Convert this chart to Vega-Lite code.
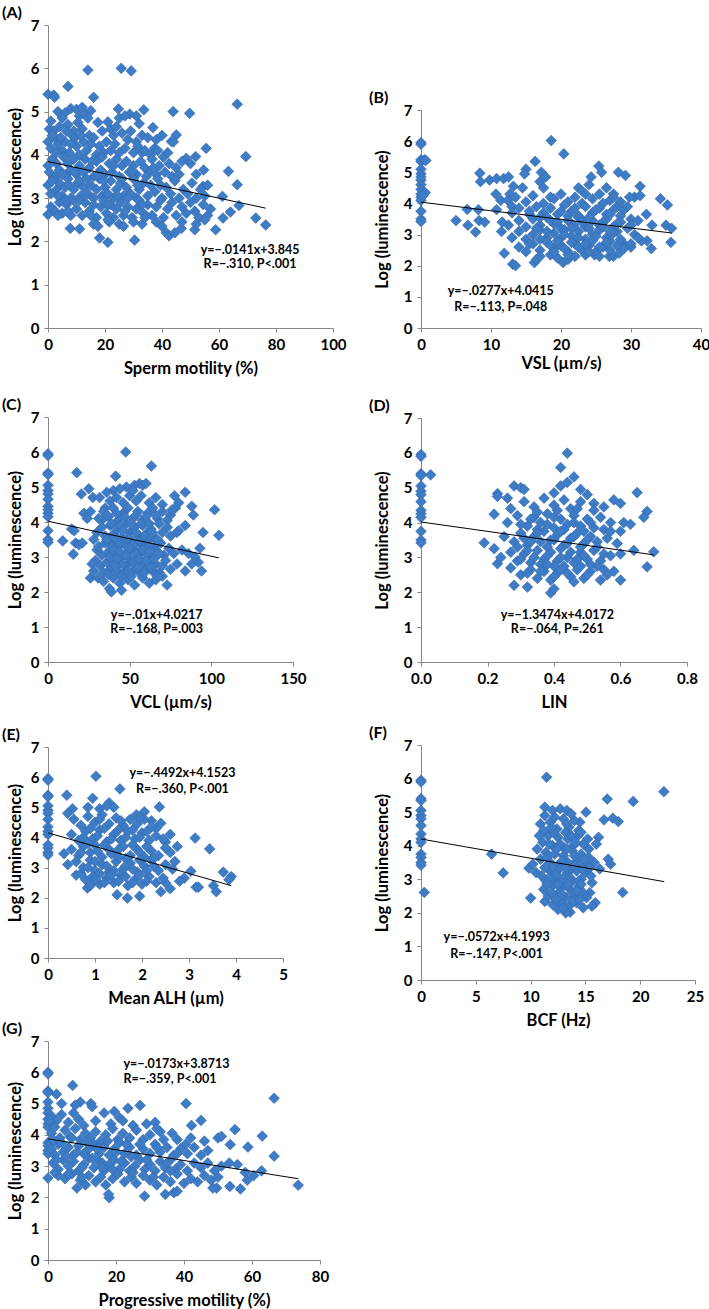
{
"$schema": "https://vega.github.io/schema/vega-lite/v6.json",
"padding": {"left": 2, "top": 5, "right": 5, "bottom": 5},
"background": "white",
"spacing": 22,
"datasets": {
"A": [{"x":0,"y":5.4},{"x":2,"y":5.38},{"x":2.3,"y":5.33},{"x":7,"y":5.58},{"x":14,"y":5.96},{"x":25.7,"y":6.0},{"x":29.2,"y":5.94},{"x":16,"y":5.33},{"x":66.4,"y":5.17},{"x":69.4,"y":3.96},{"x":76.4,"y":2.38},{"x":72.9,"y":2.54},{"x":63.3,"y":3.62},{"x":66.4,"y":3.31},{"x":67,"y":2.83},{"x":64,"y":2.68},{"x":61.2,"y":3.04},{"x":61.4,"y":2.54},{"x":58.8,"y":2.27},{"x":55.5,"y":4.15},{"x":54.6,"y":3.65},{"x":49.7,"y":4.96},{"x":43.9,"y":5.0},{"x":45,"y":4.46},{"x":43.3,"y":4.31},{"x":33.6,"y":5.04},{"x":24.7,"y":5.06},{"x":28.7,"y":4.94},{"x":36.8,"y":4.63},{"x":37.4,"y":4.15},{"x":48.5,"y":3.92},{"x":51.8,"y":3.96},{"x":54.4,"y":3.27},{"x":18.1,"y":2.08},{"x":21,"y":1.98},{"x":30.4,"y":2.03},{"x":7.8,"y":2.3},{"x":11.1,"y":2.29},{"x":0,"y":2.62},{"x":41.5,"y":2.2},{"x":42.5,"y":2.13},{"x":44.5,"y":2.2},{"x":46.8,"y":2.3},{"x":51.5,"y":2.27},
{"x":3.5,"y":5.0},{"x":6,"y":4.97},{"x":8,"y":5.07},{"x":10,"y":5.05},{"x":11,"y":4.9},{"x":12,"y":5.1},{"x":13,"y":4.95},{"x":15,"y":5.02},{"x":17.5,"y":4.75},{"x":21,"y":4.76},{"x":25,"y":4.85},{"x":27,"y":4.9},{"x":31,"y":4.9},
{"x":0.5,"y":4.6},{"x":1,"y":4.78},{"x":2,"y":4.55},{"x":4,"y":4.65},{"x":5,"y":4.85},{"x":7,"y":4.7},{"x":9,"y":4.55},{"x":10.5,"y":4.75},{"x":12,"y":4.6},{"x":14,"y":4.85},{"x":14.5,"y":4.45},{"x":16,"y":4.4},{"x":19,"y":4.55},{"x":22,"y":4.6},{"x":23,"y":4.45},{"x":24,"y":4.65},{"x":26,"y":4.5},{"x":29,"y":4.55},{"x":31,"y":4.3},{"x":32,"y":4.72},{"x":33,"y":4.45},{"x":35,"y":4.4},{"x":38,"y":4.35},{"x":40,"y":4.45},
{"x":0,"y":4.3},{"x":1,"y":4.15},{"x":2.5,"y":4.4},{"x":3.5,"y":4.25},{"x":5,"y":4.1},{"x":6,"y":4.3},{"x":7.5,"y":4.05},{"x":8.5,"y":4.45},{"x":10,"y":4.2},{"x":11,"y":4.0},{"x":12.5,"y":4.3},{"x":13.5,"y":4.1},{"x":15,"y":4.25},{"x":17,"y":4.0},{"x":18,"y":4.2},{"x":19.5,"y":4.05},{"x":20.5,"y":4.3},{"x":22,"y":4.1},{"x":23.5,"y":4.25},{"x":25,"y":4.05},{"x":27,"y":4.15},{"x":28,"y":4.35},{"x":30,"y":4.05},{"x":31.5,"y":4.2},{"x":33,"y":4.05},{"x":34,"y":4.1},{"x":36,"y":4.0},{"x":38.5,"y":4.1},{"x":40.5,"y":3.95},{"x":42,"y":4.05},{"x":44,"y":4.3},
{"x":0,"y":3.75},{"x":0.5,"y":3.6},{"x":1.5,"y":3.9},{"x":2.5,"y":3.5},{"x":3,"y":3.8},{"x":4,"y":3.65},{"x":5.5,"y":3.95},{"x":6.5,"y":3.55},{"x":7,"y":3.8},{"x":8,"y":3.65},{"x":9,"y":3.9},{"x":10,"y":3.55},{"x":11,"y":3.75},{"x":12.5,"y":3.6},{"x":13,"y":3.9},{"x":14.5,"y":3.7},{"x":16,"y":3.5},{"x":17,"y":3.85},{"x":18.5,"y":3.65},{"x":19,"y":3.95},{"x":20,"y":3.55},{"x":21.5,"y":3.8},{"x":22.5,"y":3.6},{"x":24,"y":3.9},{"x":25,"y":3.5},{"x":26,"y":3.75},{"x":27.5,"y":3.85},{"x":28.5,"y":3.6},{"x":30,"y":3.75},{"x":31,"y":3.55},{"x":32.5,"y":3.85},{"x":34,"y":3.7},{"x":35.5,"y":3.6},{"x":36.5,"y":3.9},{"x":38,"y":3.55},{"x":39,"y":3.75},{"x":41,"y":3.6},{"x":42.5,"y":3.8},{"x":43.5,"y":3.5},{"x":45,"y":3.7},{"x":46,"y":3.55},{"x":47,"y":3.85},{"x":50,"y":3.8},{"x":52,"y":3.55},
{"x":0,"y":3.3},{"x":1,"y":3.1},{"x":2,"y":3.45},{"x":3,"y":3.2},{"x":4,"y":3.35},{"x":5,"y":3.05},{"x":6,"y":3.25},{"x":7,"y":3.45},{"x":8,"y":3.0},{"x":9,"y":3.2},{"x":10.5,"y":3.35},{"x":11.5,"y":3.05},{"x":12.5,"y":3.25},{"x":14,"y":3.1},{"x":15,"y":3.3},{"x":16,"y":3.0},{"x":17,"y":3.2},{"x":18,"y":3.45},{"x":19,"y":3.05},{"x":20,"y":3.25},{"x":21,"y":3.1},{"x":22,"y":3.4},{"x":23,"y":3.0},{"x":24,"y":3.2},{"x":25.5,"y":3.35},{"x":26.5,"y":3.05},{"x":27.5,"y":3.25},{"x":29,"y":3.1},{"x":30,"y":3.45},{"x":31,"y":3.0},{"x":32,"y":3.2},{"x":33.5,"y":3.35},{"x":35,"y":3.05},{"x":36,"y":3.3},{"x":37.5,"y":3.15},{"x":38.5,"y":3.45},{"x":40,"y":3.0},{"x":41.5,"y":3.25},{"x":43,"y":3.1},{"x":44.5,"y":3.4},{"x":46,"y":3.0},{"x":47.5,"y":3.2},{"x":49,"y":3.1},{"x":50.5,"y":3.35},{"x":52,"y":3.0},{"x":53.5,"y":3.2},{"x":55,"y":3.05},{"x":56,"y":3.3},
{"x":1,"y":2.8},{"x":2.5,"y":2.7},{"x":4,"y":2.9},{"x":5,"y":2.65},{"x":6.5,"y":2.85},{"x":8,"y":2.6},{"x":9,"y":2.95},{"x":10,"y":2.75},{"x":12,"y":2.6},{"x":13,"y":2.9},{"x":14.5,"y":2.7},{"x":16,"y":2.85},{"x":17,"y":2.55},{"x":18.5,"y":2.8},{"x":19.5,"y":2.95},{"x":20.5,"y":2.65},{"x":22,"y":2.85},{"x":23,"y":2.55},{"x":24,"y":2.75},{"x":25.5,"y":2.9},{"x":26.5,"y":2.6},{"x":28,"y":2.8},{"x":29.5,"y":2.55},{"x":31,"y":2.75},{"x":32,"y":2.95},{"x":33.5,"y":2.65},{"x":35,"y":2.85},{"x":36.5,"y":2.6},{"x":38,"y":2.8},{"x":39.5,"y":2.95},{"x":40.5,"y":2.55},{"x":42,"y":2.75},{"x":43.5,"y":2.9},{"x":45,"y":2.6},{"x":47,"y":2.8},{"x":48.5,"y":2.65},{"x":50,"y":2.9},{"x":51.5,"y":2.7},{"x":53,"y":2.55},{"x":54.5,"y":2.85},{"x":56,"y":2.6},{"x":57,"y":2.75},
{"x":16,"y":2.4},{"x":17.5,"y":2.35},{"x":21.5,"y":2.45},{"x":25,"y":2.4},{"x":26.5,"y":2.35},{"x":30,"y":2.45},{"x":33,"y":2.4},{"x":38,"y":2.45},{"x":40,"y":2.35},{"x":47,"y":2.45},{"x":52,"y":2.4},{"x":55,"y":2.5},
{"x":1.5,"y":4.45},{"x":3,"y":4.05},{"x":4.5,"y":4.4},{"x":6.5,"y":4.55},{"x":8,"y":4.25},{"x":9.5,"y":4.4},{"x":11.5,"y":4.45},{"x":1.5,"y":3.4},{"x":3.5,"y":3.05},{"x":5,"y":3.55},{"x":6,"y":2.95},{"x":7.5,"y":3.3},{"x":9.5,"y":3.6},{"x":11,"y":3.4},{"x":13.5,"y":3.45},{"x":15.5,"y":3.85},{"x":17.5,"y":3.55},{"x":19.5,"y":3.4},{"x":21,"y":2.85},{"x":23,"y":3.75},{"x":24.5,"y":3.05},{"x":26,"y":3.45},{"x":28,"y":3.0},{"x":29.5,"y":3.6},{"x":31.5,"y":3.3},{"x":33,"y":2.85},{"x":34.5,"y":3.5},{"x":37,"y":3.7},{"x":39.5,"y":3.3},{"x":3.5,"y":2.6},{"x":7,"y":2.7},{"x":11,"y":2.95},{"x":15,"y":2.6},{"x":21,"y":2.5},{"x":27,"y":2.7},{"x":34,"y":2.55}],
"B": [{"x":0,"y":5.95},{"x":0,"y":5.9},{"x":0,"y":5.4},{"x":0,"y":5.35},{"x":0,"y":5.1},{"x":0,"y":4.95},{"x":0,"y":4.85},{"x":0,"y":4.75},{"x":0,"y":4.6},{"x":0,"y":4.45},{"x":0,"y":4.3},{"x":0,"y":4.2},{"x":0,"y":4.1},{"x":0,"y":3.75},{"x":0,"y":3.5},{"x":0,"y":3.42},{"x":0.5,"y":5.4},{"x":0.7,"y":5.38},{"x":0.6,"y":4.35},{"x":0.3,"y":4.25},
{"x":18.6,"y":6.02},{"x":20.4,"y":5.59},{"x":16.3,"y":5.35},{"x":5,"y":3.45},{"x":6.6,"y":3.81},{"x":6.7,"y":3.3},{"x":7.8,"y":3.08},{"x":8.2,"y":3.8},{"x":8.3,"y":3.45},{"x":9.1,"y":3.4},{"x":8.4,"y":4.97},{"x":8.5,"y":4.7},{"x":9.8,"y":4.75},{"x":10.8,"y":4.8},{"x":11.8,"y":4.8},{"x":12.5,"y":4.85},{"x":10.7,"y":4.3},{"x":11.4,"y":4.1},{"x":10.8,"y":3.8},{"x":11.5,"y":3.1},{"x":11.6,"y":3.4},{"x":11.9,"y":2.4},{"x":13.1,"y":2.05},{"x":13.5,"y":2.0},{"x":34.2,"y":4.15},{"x":35.2,"y":3.95},{"x":35,"y":3.3},{"x":35.8,"y":3.2},{"x":35.7,"y":2.75},{"x":32.9,"y":2.55},{"x":32.3,"y":2.8},{"x":31.5,"y":2.8},{"x":32.2,"y":3.65},{"x":30.5,"y":4.2},{"x":31.3,"y":4.55},{"x":31.3,"y":4.25},{"x":29.8,"y":4.2},{"x":29.2,"y":4.9},{"x":28.2,"y":5.0},{"x":25.4,"y":5.2},{"x":25.8,"y":5.0},{"x":24.3,"y":4.85},{"x":16.2,"y":2.1},{"x":16.5,"y":2.2},{"x":20.3,"y":2.1},{"x":21,"y":2.2},{"x":26.9,"y":2.3},{"x":27.5,"y":2.3},{"x":28.3,"y":2.4},{"x":24.8,"y":2.35},
{"x":15,"y":5.1},{"x":14.8,"y":4.95},{"x":17.2,"y":5.0},{"x":17.8,"y":4.85},{"x":13.2,"y":4.55},{"x":14.5,"y":4.5},{"x":12.7,"y":4.3},{"x":12.4,"y":4.1},{"x":13,"y":3.9},{"x":17,"y":4.7},{"x":17.5,"y":4.5},{"x":18.5,"y":4.2},{"x":22.5,"y":4.5},{"x":23,"y":4.4},{"x":24,"y":4.6},{"x":23.5,"y":4.3},{"x":26.5,"y":4.5},{"x":27.5,"y":4.3},{"x":27,"y":4.1},{"x":28,"y":3.9},{"x":29,"y":3.8},{"x":30,"y":3.5},{"x":29.5,"y":3.2},{"x":30.5,"y":3.0},{"x":29,"y":2.7},{"x":30,"y":2.6},{"x":31,"y":2.9},{"x":27,"y":2.8},{"x":28,"y":3.1},{"x":33,"y":3.3},
{"x":13.5,"y":4.2},{"x":15,"y":4.05},{"x":16,"y":4.25},{"x":17.5,"y":4.0},{"x":19,"y":4.15},{"x":20,"y":4.3},{"x":21,"y":4.05},{"x":22,"y":4.2},{"x":23,"y":4.0},{"x":24.5,"y":4.15},{"x":25.5,"y":4.3},{"x":26,"y":4.0},{"x":27.5,"y":4.2},{"x":28.5,"y":4.05},
{"x":13,"y":3.7},{"x":14,"y":3.85},{"x":15.5,"y":3.65},{"x":16.5,"y":3.9},{"x":17.5,"y":3.7},{"x":18.5,"y":3.85},{"x":19.5,"y":3.65},{"x":20.5,"y":3.95},{"x":21.5,"y":3.75},{"x":22.5,"y":3.6},{"x":23.5,"y":3.9},{"x":24.5,"y":3.7},{"x":25.5,"y":3.85},{"x":26.5,"y":3.65},{"x":27.5,"y":3.8},{"x":28.5,"y":3.6},{"x":29.5,"y":3.9},
{"x":12.5,"y":3.3},{"x":14,"y":3.45},{"x":15,"y":3.25},{"x":16,"y":3.5},{"x":17,"y":3.3},{"x":18,"y":3.55},{"x":19,"y":3.35},{"x":20,"y":3.2},{"x":21,"y":3.45},{"x":21.8,"y":3.3},{"x":22.5,"y":3.55},{"x":23.5,"y":3.25},{"x":24.5,"y":3.45},{"x":25.5,"y":3.3},{"x":26.5,"y":3.5},{"x":27.5,"y":3.25},{"x":28.5,"y":3.4},{"x":30,"y":3.3},{"x":31,"y":3.45},
{"x":13,"y":2.9},{"x":14,"y":3.1},{"x":15,"y":2.85},{"x":16,"y":3.0},{"x":17,"y":3.15},{"x":18,"y":2.9},{"x":19,"y":3.05},{"x":19.8,"y":2.85},{"x":20.5,"y":3.15},{"x":21.5,"y":2.95},{"x":22.5,"y":3.1},{"x":23.5,"y":2.85},{"x":24.5,"y":3.0},{"x":25.5,"y":3.15},{"x":26.5,"y":2.9},{"x":27.5,"y":3.05},{"x":28.5,"y":2.85},
{"x":14,"y":2.6},{"x":15,"y":2.45},{"x":16,"y":2.7},{"x":17,"y":2.5},{"x":18,"y":2.75},{"x":19,"y":2.55},{"x":20,"y":2.65},{"x":21,"y":2.45},{"x":22,"y":2.7},{"x":23,"y":2.5},{"x":24,"y":2.65},{"x":25,"y":2.45},{"x":26,"y":2.6},{"x":27,"y":2.5},{"x":28,"y":2.65},{"x":29,"y":2.55},{"x":30,"y":2.7},
{"x":17,"y":2.3},{"x":18.5,"y":2.35},{"x":19.5,"y":2.25},{"x":22,"y":2.3},{"x":23.5,"y":2.35},{"x":25.5,"y":2.3},
{"x":15.5,"y":3.75},{"x":17,"y":3.55},{"x":18.5,"y":3.45},{"x":20,"y":3.75},{"x":21,"y":3.6},{"x":22,"y":3.85},{"x":23,"y":3.45},{"x":24,"y":3.55},{"x":25,"y":3.8},{"x":26,"y":3.4},{"x":27,"y":3.65},{"x":16.5,"y":3.2},{"x":18,"y":3.1},{"x":19.5,"y":3.4},{"x":20.5,"y":3.0},{"x":21.5,"y":3.2},{"x":22.5,"y":2.9},{"x":23,"y":3.4},{"x":24,"y":3.2},{"x":25,"y":2.95},{"x":26,"y":3.25},{"x":27,"y":3.1},{"x":28,"y":3.35},{"x":15.5,"y":2.7},{"x":17,"y":2.85},{"x":18.5,"y":2.65},{"x":19.5,"y":2.8},{"x":20.5,"y":2.55},{"x":21.5,"y":2.75},{"x":22.5,"y":2.6},{"x":23.5,"y":2.7},{"x":24.5,"y":2.8},{"x":25.5,"y":2.6},{"x":26.5,"y":2.75},{"x":19,"y":2.45},{"x":21,"y":2.35},{"x":24,"y":2.45}],
"C": [{"x":0,"y":5.95},{"x":0,"y":5.9},{"x":0,"y":5.4},{"x":0,"y":5.35},{"x":0,"y":5.05},{"x":0,"y":4.9},{"x":0,"y":4.8},{"x":0,"y":4.65},{"x":0,"y":4.45},{"x":0,"y":4.35},{"x":0,"y":4.25},{"x":0,"y":4.15},{"x":0,"y":3.75},{"x":0,"y":3.5},{"x":0,"y":3.42},
{"x":47.6,"y":6.0},{"x":63.3,"y":5.6},{"x":17.6,"y":5.41},{"x":41.4,"y":5.31},{"x":20.4,"y":4.8},{"x":25,"y":4.95},{"x":27.5,"y":4.7},{"x":31.6,"y":4.7},{"x":9,"y":3.46},{"x":14.5,"y":3.8},{"x":16,"y":3.75},{"x":16.9,"y":3.4},{"x":15.5,"y":3.08},{"x":19,"y":3.35},{"x":21,"y":3.4},{"x":26,"y":2.4},{"x":30.6,"y":2.4},{"x":37.6,"y":2.1},{"x":38.8,"y":2.0},{"x":45,"y":2.05},{"x":102,"y":4.35},{"x":104.6,"y":3.62},{"x":94.9,"y":3.7},{"x":93,"y":3.25},{"x":94,"y":2.6},{"x":92,"y":2.85},{"x":90,"y":3.0},{"x":88,"y":2.8},{"x":89,"y":4.2},{"x":88,"y":4.45},{"x":84,"y":4.85},{"x":80,"y":4.55},{"x":77.5,"y":4.75},{"x":78,"y":4.4},{"x":75,"y":4.2},{"x":78.8,"y":3.7},{"x":72.9,"y":2.2},{"x":53,"y":5.05},{"x":56,"y":5.1},{"x":58,"y":5.05},{"x":60,"y":5.1},{"x":48,"y":5.0},{"x":44,"y":4.95},{"x":40,"y":4.9},{"x":36,"y":4.85},{"x":22,"y":4.25},{"x":24,"y":4.1},{"x":26,"y":4.3},{"x":28,"y":3.5},{"x":29,"y":2.9},{"x":27,"y":2.8},{"x":28,"y":2.6},{"x":30,"y":3.2},{"x":33,"y":4.05},{"x":35,"y":4.4},
{"x":38,"y":4.6},{"x":42,"y":4.7},{"x":46,"y":4.55},{"x":50,"y":4.75},{"x":54,"y":4.6},{"x":62,"y":4.55},{"x":66,"y":4.7},{"x":70,"y":4.5},{"x":52,"y":4.9},{"x":57,"y":4.75},
{"x":31,"y":4.1},{"x":34,"y":4.3},{"x":37,"y":4.15},{"x":40,"y":4.4},{"x":43,"y":4.05},{"x":46,"y":4.25},{"x":49,"y":4.4},{"x":52,"y":4.1},{"x":55,"y":4.3},{"x":58,"y":4.05},{"x":61,"y":4.25},{"x":64,"y":4.4},{"x":67,"y":4.1},{"x":70,"y":4.3},{"x":73,"y":4.05},{"x":76,"y":4.35},
{"x":30,"y":3.7},{"x":33,"y":3.85},{"x":35,"y":3.6},{"x":38,"y":3.9},{"x":40,"y":3.65},{"x":43,"y":3.8},{"x":45,"y":3.55},{"x":48,"y":3.95},{"x":50,"y":3.7},{"x":53,"y":3.85},{"x":55,"y":3.6},{"x":58,"y":3.9},{"x":60,"y":3.65},{"x":63,"y":3.8},{"x":65,"y":3.55},{"x":68,"y":3.95},{"x":70,"y":3.7},{"x":73,"y":3.85},{"x":75,"y":3.6},{"x":80,"y":3.75},{"x":84,"y":3.9},
{"x":31,"y":3.3},{"x":33,"y":3.05},{"x":35,"y":3.4},{"x":37,"y":3.15},{"x":39,"y":3.45},{"x":41,"y":3.1},{"x":43,"y":3.3},{"x":45,"y":3.0},{"x":47,"y":3.35},{"x":49,"y":3.15},{"x":51,"y":3.45},{"x":53,"y":3.2},{"x":55,"y":3.05},{"x":57,"y":3.35},{"x":59,"y":3.15},{"x":61,"y":3.45},{"x":63,"y":3.0},{"x":65,"y":3.3},{"x":67,"y":3.15},{"x":69,"y":3.4},{"x":71,"y":3.05},{"x":74,"y":3.25},{"x":77,"y":3.1},{"x":82,"y":3.2},{"x":86,"y":3.1},
{"x":32,"y":2.75},{"x":34,"y":2.55},{"x":36,"y":2.85},{"x":38,"y":2.65},{"x":40,"y":2.9},{"x":42,"y":2.6},{"x":44,"y":2.8},{"x":46,"y":2.55},{"x":48,"y":2.75},{"x":50,"y":2.95},{"x":52,"y":2.6},{"x":54,"y":2.8},{"x":56,"y":2.55},{"x":58,"y":2.85},{"x":60,"y":2.65},{"x":62,"y":2.9},{"x":64,"y":2.6},{"x":66,"y":2.8},{"x":68,"y":2.55},{"x":70,"y":2.75},{"x":72,"y":2.9},{"x":75,"y":2.65},{"x":79,"y":2.8},{"x":84,"y":2.6},
{"x":34,"y":2.3},{"x":40,"y":2.4},{"x":44,"y":2.25},{"x":49,"y":2.35},{"x":53,"y":2.2},{"x":58,"y":2.4},{"x":62,"y":2.25},{"x":66,"y":2.35},{"x":70,"y":2.45},
{"x":36,"y":4.2},{"x":39,"y":3.95},{"x":42,"y":4.25},{"x":44,"y":3.9},{"x":47,"y":4.15},{"x":51,"y":3.95},{"x":54,"y":4.2},{"x":57,"y":3.95},{"x":60,"y":4.15},{"x":62,"y":3.95},{"x":66,"y":4.2},{"x":36,"y":3.5},{"x":39,"y":3.3},{"x":41,"y":3.55},{"x":44,"y":3.4},{"x":46,"y":3.75},{"x":49,"y":3.55},{"x":52,"y":3.35},{"x":54,"y":3.7},{"x":56,"y":3.45},{"x":59,"y":3.6},{"x":62,"y":3.3},{"x":64,"y":3.7},{"x":67,"y":3.5},{"x":38,"y":3.0},{"x":40,"y":3.2},{"x":42,"y":2.95},{"x":44,"y":3.15},{"x":46,"y":2.8},{"x":48,"y":3.05},{"x":50,"y":3.25},{"x":52,"y":2.85},{"x":54,"y":3.1},{"x":56,"y":2.95},{"x":58,"y":3.2},{"x":60,"y":2.9},{"x":62,"y":3.15},{"x":65,"y":2.95},{"x":68,"y":3.1},{"x":37,"y":2.5},{"x":41,"y":2.75},{"x":45,"y":2.45},{"x":49,"y":2.6},{"x":51,"y":2.45},{"x":55,"y":2.7},{"x":59,"y":2.55},{"x":63,"y":2.7},{"x":67,"y":2.45}],
"D": [{"x":0,"y":5.95},{"x":0,"y":5.9},{"x":0,"y":5.4},{"x":0,"y":5.35},{"x":0,"y":5.05},{"x":0,"y":4.9},{"x":0,"y":4.8},{"x":0,"y":4.6},{"x":0,"y":4.35},{"x":0,"y":4.25},{"x":0,"y":4.15},{"x":0,"y":3.75},{"x":0,"y":3.5},{"x":0,"y":3.42},
{"x":0.029,"y":5.37},{"x":0.19,"y":3.42},{"x":0.44,"y":5.99},{"x":0.42,"y":5.58},{"x":0.44,"y":5.15},{"x":0.46,"y":5.31},{"x":0.23,"y":4.83},{"x":0.23,"y":4.75},{"x":0.22,"y":4.24},{"x":0.26,"y":4.7},{"x":0.28,"y":5.05},{"x":0.3,"y":5.0},{"x":0.31,"y":4.95},{"x":0.22,"y":3.25},{"x":0.23,"y":2.82},{"x":0.7,"y":3.16},{"x":0.68,"y":2.73},{"x":0.68,"y":4.32},{"x":0.67,"y":4.15},{"x":0.65,"y":4.86},{"x":0.64,"y":3.2},{"x":0.58,"y":4.65},{"x":0.6,"y":4.55},{"x":0.61,"y":4.0},{"x":0.63,"y":3.95},{"x":0.55,"y":2.65},{"x":0.58,"y":2.6},{"x":0.6,"y":2.35},{"x":0.54,"y":2.35},{"x":0.39,"y":1.98},{"x":0.4,"y":2.1},{"x":0.28,"y":2.2},{"x":0.32,"y":2.15},{"x":0.55,"y":3.8},{"x":0.57,"y":3.75},{"x":0.6,"y":3.75},{"x":0.5,"y":4.8},{"x":0.52,"y":4.55},{"x":0.48,"y":4.95},{"x":0.42,"y":5.05},{"x":0.4,"y":4.85},
{"x":0.27,"y":4.4},{"x":0.31,"y":4.6},{"x":0.34,"y":4.45},{"x":0.37,"y":4.7},{"x":0.4,"y":4.5},{"x":0.43,"y":4.65},{"x":0.45,"y":4.4},{"x":0.48,"y":4.6},{"x":0.52,"y":4.35},{"x":0.55,"y":4.45},
{"x":0.26,"y":4.0},{"x":0.29,"y":4.2},{"x":0.32,"y":3.9},{"x":0.34,"y":4.15},{"x":0.36,"y":4.0},{"x":0.38,"y":4.25},{"x":0.4,"y":3.85},{"x":0.42,"y":4.1},{"x":0.44,"y":3.95},{"x":0.46,"y":4.2},{"x":0.48,"y":3.9},{"x":0.5,"y":4.1},{"x":0.52,"y":3.85},{"x":0.54,"y":4.15},{"x":0.57,"y":4.0},
{"x":0.25,"y":3.6},{"x":0.28,"y":3.45},{"x":0.3,"y":3.7},{"x":0.32,"y":3.35},{"x":0.34,"y":3.6},{"x":0.36,"y":3.45},{"x":0.37,"y":3.75},{"x":0.39,"y":3.5},{"x":0.41,"y":3.65},{"x":0.43,"y":3.35},{"x":0.45,"y":3.55},{"x":0.47,"y":3.7},{"x":0.49,"y":3.4},{"x":0.51,"y":3.6},{"x":0.53,"y":3.45},{"x":0.56,"y":3.55},{"x":0.59,"y":3.4},
{"x":0.24,"y":3.0},{"x":0.27,"y":3.15},{"x":0.29,"y":2.9},{"x":0.31,"y":3.1},{"x":0.33,"y":2.85},{"x":0.35,"y":3.2},{"x":0.37,"y":2.95},{"x":0.39,"y":3.15},{"x":0.41,"y":2.9},{"x":0.42,"y":3.25},{"x":0.44,"y":3.0},{"x":0.46,"y":2.85},{"x":0.48,"y":3.15},{"x":0.5,"y":2.95},{"x":0.52,"y":3.2},{"x":0.54,"y":2.9},{"x":0.57,"y":3.05},{"x":0.6,"y":3.1},
{"x":0.27,"y":2.7},{"x":0.3,"y":2.5},{"x":0.33,"y":2.65},{"x":0.35,"y":2.4},{"x":0.37,"y":2.6},{"x":0.39,"y":2.35},{"x":0.41,"y":2.55},{"x":0.43,"y":2.75},{"x":0.45,"y":2.45},{"x":0.47,"y":2.65},{"x":0.49,"y":2.4},{"x":0.51,"y":2.6},{"x":0.53,"y":2.75},{"x":0.56,"y":2.5},
{"x":0.3,"y":3.95},{"x":0.33,"y":4.1},{"x":0.35,"y":3.8},{"x":0.38,"y":3.95},{"x":0.4,"y":4.15},{"x":0.43,"y":3.8},{"x":0.46,"y":4.0},{"x":0.49,"y":3.75},{"x":0.51,"y":4.0},{"x":0.29,"y":3.3},{"x":0.31,"y":3.55},{"x":0.33,"y":3.45},{"x":0.35,"y":3.7},{"x":0.38,"y":3.3},{"x":0.4,"y":3.5},{"x":0.42,"y":3.75},{"x":0.44,"y":3.4},{"x":0.46,"y":3.6},{"x":0.48,"y":3.3},{"x":0.5,"y":3.5},{"x":0.53,"y":3.3},{"x":0.3,"y":2.95},{"x":0.32,"y":3.2},{"x":0.34,"y":3.0},{"x":0.36,"y":2.8},{"x":0.38,"y":3.05},{"x":0.4,"y":2.75},{"x":0.42,"y":3.0},{"x":0.45,"y":3.15},{"x":0.47,"y":2.95},{"x":0.49,"y":3.05},{"x":0.51,"y":2.8},{"x":0.55,"y":3.1},{"x":0.32,"y":2.55},{"x":0.36,"y":2.6},{"x":0.38,"y":2.8},{"x":0.4,"y":2.45},{"x":0.42,"y":2.65},{"x":0.44,"y":2.55},{"x":0.46,"y":2.3},{"x":0.48,"y":2.75},{"x":0.5,"y":2.5},{"x":0.35,"y":4.3},{"x":0.41,"y":4.35},{"x":0.47,"y":4.4}],
"E": [{"x":0,"y":5.95},{"x":0,"y":5.9},{"x":0,"y":5.4},{"x":0,"y":5.35},{"x":0,"y":5.05},{"x":0,"y":4.9},{"x":0,"y":4.8},{"x":0,"y":4.6},{"x":0,"y":4.35},{"x":0,"y":4.2},{"x":0,"y":4.1},{"x":0,"y":3.75},{"x":0,"y":3.65},{"x":0,"y":3.5},{"x":0,"y":3.42},
{"x":1.02,"y":6.03},{"x":1.53,"y":5.61},{"x":0.4,"y":5.4},{"x":0.95,"y":5.3},{"x":0.34,"y":3.46},{"x":0.42,"y":3.1},{"x":0.42,"y":4.8},{"x":0.52,"y":4.95},{"x":2.37,"y":5.01},{"x":2.05,"y":4.85},{"x":1.88,"y":4.75},{"x":3.13,"y":3.98},{"x":3.44,"y":3.62},{"x":3.04,"y":2.88},{"x":3.73,"y":2.85},{"x":3.9,"y":2.7},{"x":3.85,"y":2.6},{"x":3.52,"y":2.4},{"x":3.58,"y":2.2},{"x":3.15,"y":2.35},{"x":3.2,"y":2.35},{"x":2.4,"y":4.47},{"x":2.6,"y":4.1},{"x":2.75,"y":3.7},{"x":2.9,"y":2.65},{"x":1.69,"y":1.99},{"x":1.95,"y":2.05},{"x":1.47,"y":2.1},{"x":0.84,"y":2.32},{"x":0.9,"y":2.4},{"x":0.6,"y":2.75},{"x":0.7,"y":2.8},{"x":1.3,"y":5.15},{"x":1.25,"y":5.05},{"x":1.4,"y":5.0},{"x":1.1,"y":4.95},{"x":0.85,"y":5.0},{"x":2.2,"y":4.55},{"x":2.3,"y":4.3},{"x":2.5,"y":3.85},{"x":2.6,"y":3.5},{"x":2.7,"y":3.2},{"x":2.5,"y":2.5},{"x":2.4,"y":2.2},{"x":2.6,"y":2.3},{"x":2.8,"y":2.55},
{"x":0.55,"y":4.6},{"x":0.7,"y":4.4},{"x":0.85,"y":4.7},{"x":1.0,"y":4.5},{"x":1.15,"y":4.75},{"x":1.3,"y":4.45},{"x":1.45,"y":4.65},{"x":1.6,"y":4.4},{"x":1.75,"y":4.6},{"x":1.9,"y":4.45},{"x":2.05,"y":4.6},{"x":2.2,"y":4.35},
{"x":0.5,"y":4.1},{"x":0.65,"y":3.9},{"x":0.8,"y":4.2},{"x":0.95,"y":3.95},{"x":1.1,"y":4.25},{"x":1.25,"y":3.85},{"x":1.4,"y":4.1},{"x":1.55,"y":3.9},{"x":1.7,"y":4.2},{"x":1.85,"y":3.95},{"x":2.0,"y":4.15},{"x":2.15,"y":3.9},{"x":2.3,"y":4.05},{"x":2.45,"y":3.95},
{"x":0.5,"y":3.6},{"x":0.65,"y":3.4},{"x":0.75,"y":3.7},{"x":0.9,"y":3.5},{"x":1.0,"y":3.75},{"x":1.15,"y":3.35},{"x":1.3,"y":3.6},{"x":1.45,"y":3.45},{"x":1.6,"y":3.7},{"x":1.75,"y":3.4},{"x":1.9,"y":3.6},{"x":2.05,"y":3.35},{"x":2.2,"y":3.55},{"x":2.35,"y":3.4},{"x":2.5,"y":3.65},
{"x":0.6,"y":3.2},{"x":0.75,"y":3.0},{"x":0.9,"y":3.25},{"x":1.0,"y":2.9},{"x":1.15,"y":3.1},{"x":1.3,"y":2.85},{"x":1.45,"y":3.2},{"x":1.6,"y":2.95},{"x":1.75,"y":3.15},{"x":1.9,"y":2.85},{"x":2.05,"y":3.05},{"x":2.2,"y":3.25},{"x":2.35,"y":2.9},{"x":2.5,"y":3.1},{"x":2.65,"y":2.95},
{"x":0.8,"y":2.6},{"x":0.95,"y":2.7},{"x":1.1,"y":2.45},{"x":1.25,"y":2.65},{"x":1.4,"y":2.5},{"x":1.55,"y":2.75},{"x":1.7,"y":2.4},{"x":1.85,"y":2.6},{"x":2.0,"y":2.45},{"x":2.15,"y":2.7},{"x":2.3,"y":2.5},{"x":2.45,"y":2.65},
{"x":0.75,"y":4.0},{"x":0.9,"y":4.3},{"x":1.05,"y":4.05},{"x":1.2,"y":4.3},{"x":1.35,"y":3.95},{"x":1.5,"y":4.25},{"x":1.65,"y":4.0},{"x":1.8,"y":4.25},{"x":1.95,"y":4.0},{"x":2.1,"y":4.2},{"x":0.7,"y":3.5},{"x":0.85,"y":3.8},{"x":1.05,"y":3.55},{"x":1.2,"y":3.75},{"x":1.35,"y":3.45},{"x":1.5,"y":3.6},{"x":1.65,"y":3.3},{"x":1.8,"y":3.75},{"x":1.95,"y":3.5},{"x":2.1,"y":3.7},{"x":2.25,"y":3.3},{"x":0.85,"y":3.0},{"x":1.0,"y":3.2},{"x":1.1,"y":2.8},{"x":1.25,"y":3.05},{"x":1.4,"y":2.9},{"x":1.5,"y":3.35},{"x":1.65,"y":3.05},{"x":1.8,"y":2.95},{"x":1.95,"y":3.25},{"x":2.1,"y":2.9},{"x":2.25,"y":3.05},{"x":1.0,"y":2.6},{"x":1.2,"y":2.5},{"x":1.35,"y":2.75},{"x":1.5,"y":2.55},{"x":1.65,"y":2.7},{"x":1.8,"y":2.5},{"x":1.95,"y":2.75},{"x":2.1,"y":2.55},{"x":1.1,"y":4.6},{"x":1.55,"y":4.55},{"x":1.95,"y":4.65}],
"F": [{"x":0,"y":5.95},{"x":0,"y":5.9},{"x":0,"y":5.4},{"x":0,"y":5.35},{"x":0,"y":5.05},{"x":0,"y":4.9},{"x":0,"y":4.8},{"x":0,"y":4.6},{"x":0,"y":4.35},{"x":0,"y":4.2},{"x":0,"y":4.1},{"x":0,"y":3.75},{"x":0,"y":3.65},{"x":0,"y":3.5},{"x":0,"y":3.42},{"x":0.3,"y":2.61},
{"x":6.44,"y":3.75},{"x":7.5,"y":3.19},{"x":11.46,"y":6.04},{"x":16.99,"y":5.39},{"x":19.36,"y":5.32},{"x":22.16,"y":5.61},{"x":17.5,"y":4.82},{"x":18.0,"y":4.72},{"x":16.7,"y":4.77},{"x":16.2,"y":4.25},{"x":17.08,"y":3.6},{"x":17.3,"y":3.45},{"x":16.3,"y":3.31},{"x":18.4,"y":2.61},{"x":15.9,"y":2.3},{"x":15.6,"y":2.2},{"x":10.0,"y":2.44},{"x":11.3,"y":2.34},{"x":9.85,"y":3.33},{"x":10.2,"y":3.45},{"x":10.5,"y":3.2},{"x":15.05,"y":5.0},{"x":14.5,"y":4.7},{"x":11.3,"y":5.15},{"x":11.3,"y":4.9},{"x":10.9,"y":4.65},{"x":13.6,"y":2.02},{"x":10.8,"y":4.3},{"x":10.6,"y":3.9},{"x":12.0,"y":5.05},{"x":12.7,"y":5.1},{"x":13.3,"y":5.05},{"x":13.7,"y":4.95},{"x":16,"y":4.05},{"x":15.8,"y":3.5},{"x":15.6,"y":2.9},{"x":15.4,"y":2.6},{"x":14.8,"y":2.15},{"x":12.5,"y":2.1},{"x":13.2,"y":2.0},
{"x":11.8,"y":4.7},{"x":12.4,"y":4.5},{"x":13.0,"y":4.8},{"x":13.5,"y":4.55},{"x":14.0,"y":4.75},{"x":14.4,"y":4.45},{"x":12.2,"y":4.85},
{"x":11.1,"y":4.1},{"x":11.6,"y":4.3},{"x":12.0,"y":4.0},{"x":12.5,"y":4.25},{"x":13.0,"y":3.95},{"x":13.4,"y":4.2},{"x":13.9,"y":4.0},{"x":14.3,"y":4.3},{"x":14.8,"y":4.05},{"x":15.2,"y":4.2},
{"x":10.9,"y":3.6},{"x":11.4,"y":3.8},{"x":11.8,"y":3.5},{"x":12.2,"y":3.75},{"x":12.6,"y":3.45},{"x":13.0,"y":3.7},{"x":13.4,"y":3.5},{"x":13.8,"y":3.85},{"x":14.2,"y":3.55},{"x":14.6,"y":3.75},{"x":15.0,"y":3.45},{"x":15.3,"y":3.65},
{"x":11.0,"y":3.1},{"x":11.4,"y":2.95},{"x":11.8,"y":3.25},{"x":12.2,"y":3.0},{"x":12.6,"y":3.3},{"x":13.0,"y":3.05},{"x":13.4,"y":3.2},{"x":13.8,"y":2.95},{"x":14.2,"y":3.25},{"x":14.6,"y":3.0},{"x":15.0,"y":3.2},{"x":15.4,"y":3.35},
{"x":11.2,"y":2.7},{"x":11.6,"y":2.5},{"x":12.0,"y":2.8},{"x":12.4,"y":2.55},{"x":12.8,"y":2.75},{"x":13.2,"y":2.45},{"x":13.6,"y":2.7},{"x":14.0,"y":2.5},{"x":14.4,"y":2.8},{"x":14.8,"y":2.6},{"x":15.1,"y":2.45},
{"x":12.0,"y":2.25},{"x":12.8,"y":2.3},{"x":13.5,"y":2.2},{"x":14.2,"y":2.3},
{"x":11.2,"y":4.45},{"x":11.7,"y":4.05},{"x":12.1,"y":4.4},{"x":12.7,"y":4.05},{"x":13.2,"y":4.4},{"x":13.7,"y":4.3},{"x":14.1,"y":4.1},{"x":14.6,"y":4.4},{"x":11.5,"y":3.65},{"x":12.0,"y":3.35},{"x":12.4,"y":3.9},{"x":12.9,"y":3.55},{"x":13.3,"y":3.9},{"x":13.6,"y":3.3},{"x":14.0,"y":3.7},{"x":14.4,"y":3.4},{"x":14.9,"y":3.6},{"x":11.3,"y":3.35},{"x":11.7,"y":3.05},{"x":12.3,"y":3.15},{"x":12.8,"y":2.9},{"x":13.2,"y":3.35},{"x":13.6,"y":3.05},{"x":14.0,"y":3.4},{"x":14.4,"y":2.95},{"x":14.8,"y":3.3},{"x":11.5,"y":2.85},{"x":11.9,"y":2.6},{"x":12.5,"y":2.85},{"x":12.9,"y":2.55},{"x":13.4,"y":2.85},{"x":13.8,"y":2.6},{"x":14.2,"y":2.65},{"x":14.6,"y":2.85},{"x":12.3,"y":2.4},{"x":13.0,"y":2.15},{"x":13.9,"y":2.35},{"x":14.5,"y":2.4},{"x":11.9,"y":4.55},{"x":13.3,"y":4.65},{"x":15.3,"y":3.9},{"x":15.5,"y":3.1}],
"G": [{"x":0,"y":6.0},{"x":0,"y":5.95},{"x":0,"y":5.4},{"x":0,"y":5.35},{"x":0,"y":5.05},{"x":0,"y":4.85},{"x":0,"y":4.7},{"x":0,"y":4.5},{"x":0,"y":4.35},{"x":0,"y":4.25},{"x":0,"y":3.75},{"x":0,"y":3.65},{"x":0,"y":3.5},{"x":0,"y":3.4},{"x":0,"y":2.62},
{"x":7.25,"y":5.58},{"x":40.6,"y":5.0},{"x":66.5,"y":5.17},{"x":66.5,"y":3.32},{"x":73.6,"y":2.39},{"x":63,"y":3.96},{"x":58.8,"y":3.61},{"x":58,"y":2.8},{"x":58.6,"y":2.55},{"x":60.5,"y":2.7},{"x":62.8,"y":2.85},{"x":56.6,"y":2.27},{"x":55.7,"y":3.05},{"x":53.3,"y":3.1},{"x":53.6,"y":3.69},{"x":55,"y":4.17},{"x":53.5,"y":2.35},{"x":50,"y":3.9},{"x":51,"y":3.95},{"x":49.6,"y":2.3},{"x":48.5,"y":2.3},{"x":45,"y":4.46},{"x":42.2,"y":4.3},{"x":34.5,"y":2.1},{"x":37,"y":2.15},{"x":38,"y":2.2},{"x":28.4,"y":2.04},{"x":18,"y":1.99},{"x":17.8,"y":2.1},{"x":8.5,"y":2.3},{"x":11,"y":2.4},{"x":27.1,"y":4.94},{"x":12.6,"y":5.0},{"x":9.5,"y":5.05},{"x":2.5,"y":5.3},{"x":4,"y":5.0},{"x":8,"y":4.95},{"x":13,"y":4.9},{"x":19.5,"y":4.75},{"x":21,"y":4.55},{"x":23.5,"y":4.85},{"x":31.5,"y":4.4},
{"x":1,"y":4.6},{"x":2.5,"y":4.45},{"x":4,"y":4.65},{"x":6,"y":4.4},{"x":7.5,"y":4.7},{"x":9,"y":4.5},{"x":10.5,"y":4.3},{"x":14,"y":4.45},{"x":16.5,"y":4.7},{"x":18.5,"y":4.35},{"x":22,"y":4.45},{"x":25,"y":4.3},{"x":29,"y":4.35},{"x":33,"y":4.1},
{"x":1,"y":4.05},{"x":2,"y":4.25},{"x":3.5,"y":3.9},{"x":5,"y":4.15},{"x":6.5,"y":3.95},{"x":8,"y":4.2},{"x":9.5,"y":3.85},{"x":11,"y":4.05},{"x":12.5,"y":3.9},{"x":14,"y":4.1},{"x":15.5,"y":3.8},{"x":17,"y":4.0},{"x":19,"y":4.2},{"x":20.5,"y":3.85},{"x":22,"y":4.05},{"x":24,"y":3.9},{"x":26,"y":4.15},{"x":28,"y":3.85},{"x":30,"y":4.0},{"x":32,"y":4.2},{"x":34,"y":3.85},{"x":36.5,"y":4.05},{"x":38,"y":3.85},{"x":40.5,"y":3.7},{"x":42,"y":3.9},{"x":46,"y":3.8},
{"x":1,"y":3.55},{"x":2,"y":3.35},{"x":3,"y":3.7},{"x":4.5,"y":3.45},{"x":6,"y":3.6},{"x":7.5,"y":3.35},{"x":9,"y":3.65},{"x":10.5,"y":3.4},{"x":12,"y":3.55},{"x":13.5,"y":3.7},{"x":15,"y":3.4},{"x":16.5,"y":3.6},{"x":18,"y":3.35},{"x":19.5,"y":3.55},{"x":21,"y":3.75},{"x":22.5,"y":3.4},{"x":24,"y":3.6},{"x":26,"y":3.35},{"x":28,"y":3.55},{"x":30,"y":3.4},{"x":31.5,"y":3.7},{"x":33,"y":3.45},{"x":35,"y":3.6},{"x":37,"y":3.35},{"x":39,"y":3.55},{"x":41,"y":3.4},{"x":43,"y":3.6},{"x":45,"y":3.35},{"x":47,"y":3.5},
{"x":1.5,"y":3.1},{"x":3,"y":2.9},{"x":4.5,"y":3.2},{"x":6,"y":3.0},{"x":7.5,"y":3.15},{"x":9,"y":2.85},{"x":10.5,"y":3.05},{"x":12,"y":3.25},{"x":13.5,"y":2.95},{"x":15,"y":3.15},{"x":16.5,"y":2.85},{"x":18,"y":3.05},{"x":19.5,"y":3.2},{"x":21,"y":2.9},{"x":22.5,"y":3.1},{"x":24,"y":2.85},{"x":25.5,"y":3.0},{"x":27,"y":3.2},{"x":28.5,"y":2.9},{"x":30,"y":3.05},{"x":31.5,"y":2.85},{"x":33,"y":3.15},{"x":34.5,"y":2.95},{"x":36,"y":3.2},{"x":37.5,"y":2.9},{"x":39,"y":3.05},{"x":41,"y":2.85},{"x":43,"y":3.1},{"x":45,"y":2.95},{"x":47,"y":3.1},{"x":49,"y":2.85},{"x":51,"y":3.0},
{"x":3,"y":2.7},{"x":5,"y":2.6},{"x":7,"y":2.75},{"x":9.5,"y":2.55},{"x":12,"y":2.7},{"x":14,"y":2.5},{"x":15.5,"y":2.65},{"x":17,"y":2.4},{"x":19,"y":2.6},{"x":20.5,"y":2.75},{"x":22.5,"y":2.5},{"x":24.5,"y":2.65},{"x":26,"y":2.45},{"x":28,"y":2.7},{"x":30,"y":2.55},{"x":32,"y":2.4},{"x":34,"y":2.65},{"x":36,"y":2.5},{"x":38,"y":2.75},{"x":40,"y":2.45},{"x":42,"y":2.6},{"x":44,"y":2.5},{"x":46,"y":2.7},{"x":48,"y":2.55},{"x":50,"y":2.65},
{"x":0.5,"y":4.45},{"x":1.5,"y":3.85},{"x":2.5,"y":3.2},{"x":4,"y":3.75},{"x":5.5,"y":3.3},{"x":7,"y":3.9},{"x":8.5,"y":3.45},{"x":10,"y":2.95},{"x":11.5,"y":3.75},{"x":13,"y":3.25},{"x":14.5,"y":3.55},{"x":16,"y":3.1},{"x":17.5,"y":3.8},{"x":19,"y":2.9},{"x":20,"y":3.45},{"x":21.5,"y":3.15},{"x":23,"y":3.7},{"x":24.5,"y":3.3},{"x":27,"y":3.7},{"x":29,"y":3.2},{"x":32,"y":3.6},{"x":35,"y":3.1},{"x":38,"y":3.4},{"x":2,"y":2.8},{"x":6,"y":2.75},{"x":10,"y":2.65},{"x":16,"y":2.95},{"x":25,"y":2.8},{"x":31,"y":2.65},{"x":36,"y":2.85}]
},
"hconcat": [
{"bounds": "flush", "spacing": 0, "vconcat": [
{"width": 285, "height": 303, "title": {"text": "(A)", "dx": -46},
 "encoding": {"x": {"field": "x", "type": "quantitative", "scale": {"domain": [0, 100], "nice": false, "zero": false}, "axis": {"title": "Sperm motility (%)", "values": [0, 20, 40, 60, 80, 100]}},
  "y": {"field": "y", "type": "quantitative", "scale": {"domain": [0, 7], "nice": false}, "axis": {"title": "Log (luminescence)", "values": [0, 1, 2, 3, 4, 5, 6, 7], "titlePadding": 7}}},
 "layer": [
  {"data": {"name": "A"}, "mark": "point"},
  {"data": {"values": [{"x": 0, "y": 3.845}, {"x": 76.4, "y": 2.768}]}, "mark": "line", "encoding": {}},
  {"data": {"values": [{"x": 70.9, "y": 1.8, "t": "y=−.0141x+3.845"}, {"x": 70.9, "y": 1.47, "t": "R=−.310, P<.001"}]}, "mark": "text", "encoding": {"text": {"field": "t"}}}
 ]},
{"width": 10, "height": 89, "data": {"values": []}, "mark": "point"},
{"width": 245, "height": 245, "title": {"text": "(C)", "dx": -46},
 "encoding": {"x": {"field": "x", "type": "quantitative", "scale": {"domain": [0, 150], "nice": false, "zero": false}, "axis": {"title": "VCL (µm/s)", "values": [0, 50, 100, 150]}},
  "y": {"field": "y", "type": "quantitative", "scale": {"domain": [0, 7], "nice": false}, "axis": {"title": "Log (luminescence)", "values": [0, 1, 2, 3, 4, 5, 6, 7], "titlePadding": 7}}},
 "layer": [
  {"data": {"name": "C"}, "mark": "point"},
  {"data": {"values": [{"x": 0, "y": 4.0217}, {"x": 104.6, "y": 2.976}]}, "mark": "line", "encoding": {}},
  {"data": {"values": [{"x": 66.5, "y": 1.34, "t": "y=−.01x+4.0217"}, {"x": 66.5, "y": 0.93, "t": "R=−.168, P=.003"}]}, "mark": "text", "encoding": {"text": {"field": "t"}}}
 ]},
{"width": 10, "height": 85, "data": {"values": []}, "mark": "point"},
{"width": 235, "height": 211, "title": {"text": "(E)", "dx": -46},
 "encoding": {"x": {"field": "x", "type": "quantitative", "scale": {"domain": [0, 5], "nice": false, "zero": false}, "axis": {"title": "Mean ALH (µm)", "values": [0, 1, 2, 3, 4, 5]}},
  "y": {"field": "y", "type": "quantitative", "scale": {"domain": [0, 7], "nice": false}, "axis": {"title": "Log (luminescence)", "values": [0, 1, 2, 3, 4, 5, 6, 7], "titlePadding": 7}}},
 "layer": [
  {"data": {"name": "E"}, "mark": "point"},
  {"data": {"values": [{"x": 0, "y": 4.1523}, {"x": 3.9, "y": 2.40}]}, "mark": "line", "encoding": {}},
  {"data": {"values": [{"x": 2.86, "y": 6.14, "t": "y=−.4492x+4.1523"}, {"x": 2.86, "y": 5.61, "t": "R=−.360, P<.001"}]}, "mark": "text", "encoding": {"text": {"field": "t"}}}
 ]},
{"width": 10, "height": 83, "data": {"values": []}, "mark": "point"},
{"width": 272, "height": 219, "title": {"text": "(G)", "dx": -46},
 "encoding": {"x": {"field": "x", "type": "quantitative", "scale": {"domain": [0, 80], "nice": false, "zero": false}, "axis": {"title": "Progressive motility (%)", "values": [0, 20, 40, 60, 80]}},
  "y": {"field": "y", "type": "quantitative", "scale": {"domain": [0, 7], "nice": false}, "axis": {"title": "Log (luminescence)", "values": [0, 1, 2, 3, 4, 5, 6, 7], "titlePadding": 7}}},
 "layer": [
  {"data": {"name": "G"}, "mark": "point"},
  {"data": {"values": [{"x": 0, "y": 3.8713}, {"x": 73.6, "y": 2.598}]}, "mark": "line", "encoding": {}},
  {"data": {"values": [{"x": 22.2, "y": 6.25, "t": "y=−.0173x+3.8713"}, {"x": 22.2, "y": 5.77, "t": "R=−.359, P<.001"}]}, "mark": {"type": "text", "align": "left"}, "encoding": {"text": {"field": "t"}}}
 ]}
]},
{"bounds": "flush", "spacing": 0, "vconcat": [
{"width": 10, "height": 85, "data": {"values": []}, "mark": "point"},
{"width": 280, "height": 218, "title": {"text": "(B)", "dx": -52},
 "encoding": {"x": {"field": "x", "type": "quantitative", "scale": {"domain": [0, 40], "nice": false, "zero": false}, "axis": {"title": "VSL (µm/s)", "values": [0, 10, 20, 30, 40], "titlePadding": 3}},
  "y": {"field": "y", "type": "quantitative", "scale": {"domain": [0, 7], "nice": false}, "axis": {"title": "Log (luminescence)", "values": [0, 1, 2, 3, 4, 5, 6, 7], "titlePadding": 13}}},
 "layer": [
  {"data": {"name": "B"}, "mark": "point"},
  {"data": {"values": [{"x": 0, "y": 4.0415}, {"x": 35.8, "y": 3.05}]}, "mark": "line", "encoding": {}},
  {"data": {"values": [{"x": 11.4, "y": 1.2, "t": "y=−.0277x+4.0415"}, {"x": 11.4, "y": 0.66, "t": "R=−.113, P=.048"}]}, "mark": "text", "encoding": {"text": {"field": "t"}}}
 ]},
{"width": 10, "height": 90, "data": {"values": []}, "mark": "point"},
{"width": 266, "height": 244, "title": {"text": "(D)", "dx": -52},
 "encoding": {"x": {"field": "x", "type": "quantitative", "scale": {"domain": [0, 0.8], "nice": false, "zero": false}, "axis": {"title": "LIN", "values": [0, 0.2, 0.4, 0.6, 0.8], "format": ".1f"}},
  "y": {"field": "y", "type": "quantitative", "scale": {"domain": [0, 7], "nice": false}, "axis": {"title": "Log (luminescence)", "values": [0, 1, 2, 3, 4, 5, 6, 7], "titlePadding": 13}}},
 "layer": [
  {"data": {"name": "D"}, "mark": "point"},
  {"data": {"values": [{"x": 0, "y": 4.0172}, {"x": 0.7, "y": 3.074}]}, "mark": "line", "encoding": {}},
  {"data": {"values": [{"x": 0.41, "y": 1.36, "t": "y=−1.3474x+4.0172"}, {"x": 0.41, "y": 0.96, "t": "R=−.064, P=.261"}]}, "mark": "text", "encoding": {"text": {"field": "t"}}}
 ]},
{"width": 10, "height": 83, "data": {"values": []}, "mark": "point"},
{"width": 274, "height": 235, "title": {"text": "(F)", "dx": -52},
 "encoding": {"x": {"field": "x", "type": "quantitative", "scale": {"domain": [0, 25], "nice": false, "zero": false}, "axis": {"title": "BCF (Hz)", "values": [0, 5, 10, 15, 20, 25]}},
  "y": {"field": "y", "type": "quantitative", "scale": {"domain": [0, 7], "nice": false}, "axis": {"title": "Log (luminescence)", "values": [0, 1, 2, 3, 4, 5, 6, 7], "titlePadding": 13}}},
 "layer": [
  {"data": {"name": "F"}, "mark": "point"},
  {"data": {"values": [{"x": 0, "y": 4.1993}, {"x": 22.2, "y": 2.929}]}, "mark": "line", "encoding": {}},
  {"data": {"values": [{"x": 6.9, "y": 1.27, "t": "y=−.0572x+4.1993"}, {"x": 6.9, "y": 0.77, "t": "R=−.147, P<.001"}]}, "mark": "text", "encoding": {"text": {"field": "t"}}}
 ]}
]}
],
"config": {
 "font": "Lato",
 "view": {"stroke": null},
 "axis": {"grid": false, "domainColor": "#868686", "tickColor": "#868686", "tickSize": 4, "labelPadding": 5, "labelFont": "Lato", "labelFontSize": 15, "labelFontWeight": "bold", "labelColor": "black", "labelFlush": false, "labelOverlap": false, "titleFont": "Lato", "titleFontSize": 16.5, "titleFontWeight": "bold", "titleColor": "black"},
 "axisX": {"titlePadding": 8},
 "title": {"font": "Lato", "fontSize": 16, "fontWeight": "bold", "anchor": "start", "frame": "group", "offset": -3, "color": "black"},
 "point": {"shape": "diamond", "filled": true, "size": 115, "color": "#3F7CC6", "opacity": 1, "stroke": "#2F66AE", "strokeWidth": 0.6},
 "line": {"color": "black", "strokeWidth": 1},
 "text": {"font": "Lato", "fontWeight": "bold", "fontSize": 12.5, "color": "black", "baseline": "middle"}
}
}
